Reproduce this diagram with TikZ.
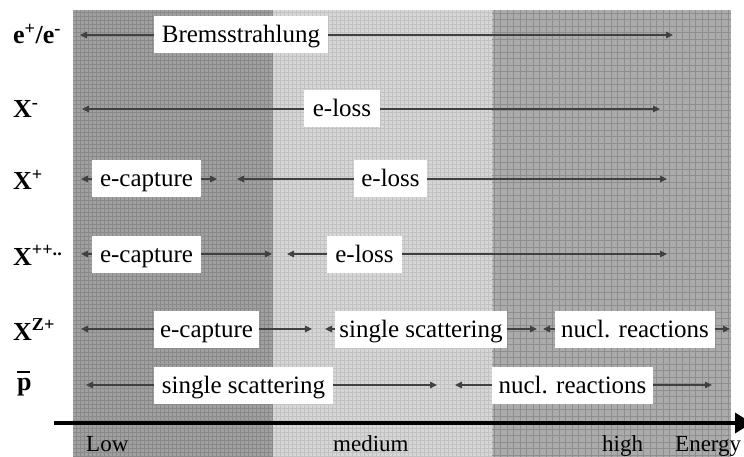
\documentclass[tikz,border=0pt]{standalone}
\usepackage{fontspec}
\setmainfont{Liberation Serif}
\usetikzlibrary{arrows.meta}
\definecolor{clow}{HTML}{A0A0A0}
\definecolor{clowl}{HTML}{8A8A8A}
\definecolor{cmed}{HTML}{D6D6D6}
\definecolor{cmedl}{HTML}{C2C2C2}
\definecolor{chigh}{HTML}{ABABAB}
\definecolor{chighl}{HTML}{8E8E8E}
\begin{document}
\begin{tikzpicture}[x=1pt,y=-1pt,
  lbl/.style={fill=white, minimum height=37pt, inner xsep=0pt, inner ysep=0pt,
              text height=18pt, text depth=2pt,
              font=\fontsize{25}{30}\selectfont},
  side/.style={anchor=base west, inner sep=0pt, font=\fontsize{26}{30}\selectfont\bfseries},
  ax/.style={anchor=base west, inner sep=0pt, font=\fontsize{23}{28}\selectfont},
  rng/.style={draw=black!75, line width=1.2pt, -{Triangle[length=7pt,width=6.5pt]}}
]
\useasboundingbox (0,0) rectangle (744,457);
% background regions
\fill[clow] (73,10) rectangle (273,457);
\fill[cmed] (273,10) rectangle (492,457);
\fill[chigh] (492,10) rectangle (731,457);
\draw[clowl, line width=0.5pt, xstep=4pt, ystep=4pt] (73,10) grid (273,457);
\draw[cmedl, line width=0.5pt, xstep=4pt, ystep=4pt] (273,10) grid (492,457);
\draw[chighl, line width=0.8pt, xstep=6.5pt, ystep=6.5pt] (492,10) grid (731,457);

% left labels
\node[side] (s1) at (13,44) {e\textsuperscript{+}/e\textsuperscript{-}};
\node[side] (s2) at (13,118) {X\textsuperscript{-}};
\node[side] (s3) at (13,190) {X\textsuperscript{+}};
\node[side] (s4) at (13,265) {X\textsuperscript{++..}};
\node[side] (s5) at (13,340) {X\textsuperscript{Z+}};
\node[side] (s6) at (17,390) {\rlap{\rule[17pt]{13pt}{2pt}}p};

% row 1
\node[lbl, minimum width=174pt] (br) at (241,35) {Bremsstrahlung};
\coordinate (r1l) at (80,35); \coordinate (r1r) at (673,35);
\draw[rng] (br.west) -- (r1l); \draw[rng] (br.east) -- (r1r);

% row 2
\node[lbl, minimum width=76pt] (el2) at (342,109) {e-loss};
\coordinate (r2l) at (82,109); \coordinate (r2r) at (660,109);
\draw[rng] (el2.west) -- (r2l); \draw[rng] (el2.east) -- (r2r);

% row 3
\node[lbl, minimum width=109pt] (ec3) at (146.5,179) {e-capture};
\node[lbl, minimum width=73pt] (el3) at (390.5,179) {e-loss};
\coordinate (r3a) at (81,179); \coordinate (r3b) at (217,179);
\coordinate (r3c) at (237,179); \coordinate (r3d) at (667,179);
\draw[rng] (ec3.west) -- (r3a); \draw[rng] (ec3.east) -- (r3b);
\draw[rng] (el3.west) -- (r3c); \draw[rng] (el3.east) -- (r3d);

% row 4
\node[lbl, minimum width=109pt] (ec4) at (146.5,254) {e-capture};
\node[lbl, minimum width=75pt] (el4) at (364.5,254) {e-loss};
\coordinate (r4a) at (81,254); \coordinate (r4b) at (272,254);
\coordinate (r4c) at (287,254); \coordinate (r4d) at (667,254);
\draw[rng] (ec4.west) -- (r4a); \draw[rng] (ec4.east) -- (r4b);
\draw[rng] (el4.west) -- (r4c); \draw[rng] (el4.east) -- (r4d);

% row 5
\node[lbl, minimum width=105pt] (ec5) at (206.5,329) {e-capture};
\node[lbl, minimum width=172pt] (ss5) at (421,329) {single scattering};
\node[lbl, minimum width=160pt] (nr5) at (635,329) {nucl. reactions};
\coordinate (r5a) at (81,329); \coordinate (r5b) at (312,329);
\coordinate (r5c) at (325,329); \coordinate (r5d) at (537,329);
\coordinate (r5e) at (543,329); \coordinate (r5f) at (730,329);
\draw[rng] (ec5.west) -- (r5a); \draw[rng] (ec5.east) -- (r5b);
\draw[rng] (ss5.west) -- (r5c); \draw[rng] (ss5.east) -- (r5d);
\draw[rng] (nr5.west) -- (r5e); \draw[rng] (nr5.east) -- (r5f);

% row 6
\node[lbl, minimum width=179pt] (ss6) at (243.5,385) {single scattering};
\node[lbl, minimum width=161pt] (nr6) at (572.5,385) {nucl. reactions};
\coordinate (r6a) at (86,385); \coordinate (r6b) at (437,385);
\coordinate (r6c) at (455,385); \coordinate (r6d) at (712,385);
\draw[rng] (ss6.west) -- (r6a); \draw[rng] (ss6.east) -- (r6b);
\draw[rng] (nr6.west) -- (r6c); \draw[rng] (nr6.east) -- (r6d);

% energy axis
\coordinate (a0) at (54,423); \coordinate (a1) at (752,423);
\draw[line width=3.5pt, -{Triangle[length=17pt,width=20pt]}] (a0) -- (a1);
\node[ax] (low) at (86,451) {Low};
\node[ax] (med) at (333,451) {medium};
\node[ax] (hig) at (602,451) {high};
\node[ax] (ene) at (675,451) {Energy};
\end{tikzpicture}
\end{document}
